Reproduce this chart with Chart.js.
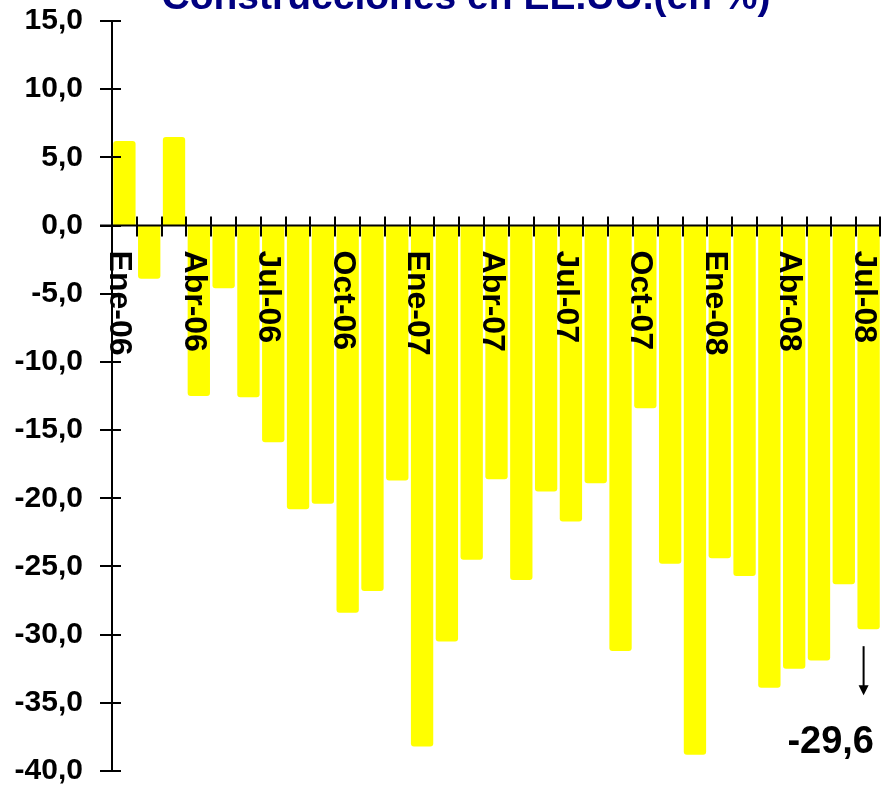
<!DOCTYPE html>
<html>
<head>
<meta charset="utf-8">
<script src="https://cdn.jsdelivr.net/npm/chart.js@4.4.1/dist/chart.umd.min.js"></script>
<style>
  html, body { margin: 0; padding: 0; background: #ffffff; }
  #wrap { width: 881px; height: 788px; }
</style>
</head>
<body>
<div id="wrap"><canvas id="c" width="881" height="788"></canvas></div>
<script>
// Monthly change in US construction (%), Jan 2006 - Jul 2008
const chartTitle = 'Construcciones en EE.UU.(en %)';
const months = [
  'Ene-06','Feb-06','Mar-06','Abr-06','May-06','Jun-06','Jul-06','Ago-06','Sep-06','Oct-06','Nov-06','Dic-06',
  'Ene-07','Feb-07','Mar-07','Abr-07','May-07','Jun-07','Jul-07','Ago-07','Sep-07','Oct-07','Nov-07','Dic-07',
  'Ene-08','Feb-08','Mar-08','Abr-08','May-08','Jun-08','Jul-08'
];
const values = [
  6.2, -3.9, 6.5, -12.5, -4.6, -12.6, -15.9, -20.8, -20.4, -28.4, -26.8, -18.7,
  -38.2, -30.5, -24.5, -18.6, -26.0, -19.5, -21.7, -18.9, -31.2, -13.4, -24.8, -38.8,
  -24.4, -25.7, -33.9, -32.5, -31.9, -26.3, -29.6
];
const yTickValues = [15, 10, 5, 0, -5, -10, -15, -20, -25, -30, -35, -40];
const labelEvery = 3;          // a month label every quarter
const calloutIndex = values.length - 1; // latest month gets a value callout

const FONT = '"Liberation Sans", Arial, Helvetica, sans-serif';
const fmt = v => Number(v).toFixed(1).replace('.', ',');

// Axes with crossing tick marks, rotated month labels, callout and title
const decorations = {
  id: 'decorations',
  afterDatasetsDraw(chart) {
    const { ctx, chartArea: ca, scales: { x, y } } = chart;
    const y0 = y.getPixelForValue(0);
    const n = months.length;
    const step = (ca.right - ca.left) / n;

    ctx.save();
    ctx.strokeStyle = '#000';
    ctx.lineWidth = 2;

    // vertical axis and its ticks
    ctx.beginPath();
    ctx.moveTo(ca.left, y.getPixelForValue(yTickValues[0]));
    ctx.lineTo(ca.left, y.getPixelForValue(yTickValues[yTickValues.length - 1]));
    yTickValues.forEach(v => {
      const py = Math.round(y.getPixelForValue(v));
      ctx.moveTo(ca.left - 12, py);
      ctx.lineTo(ca.left + 9, py);
    });
    ctx.stroke();

    // horizontal axis at zero with ticks between months
    ctx.beginPath();
    ctx.moveTo(ca.left - 12, y0);
    ctx.lineTo(ca.right, y0);
    for (let i = 1; i <= n; i++) {
      const px = Math.min(Math.round(x.getPixelForValue(i - 1) + step / 2), ca.right - 1);
      ctx.moveTo(px, y0 - 9);
      ctx.lineTo(px, y0 + 11);
    }
    ctx.stroke();

    // month labels, rotated to read downward
    ctx.fillStyle = '#000';
    ctx.font = 'bold 32px ' + FONT;
    ctx.textAlign = 'left';
    ctx.textBaseline = 'alphabetic';
    months.forEach((m, i) => {
      if (i % labelEvery !== 0) return;
      const px = x.getPixelForValue(i);
      ctx.save();
      ctx.translate(px - 14, y0 + 25);
      ctx.rotate(Math.PI / 2);
      ctx.fillText(m, 0, 0);
      ctx.restore();
    });

    // callout for the latest value
    const v = values[calloutIndex];
    const cx = x.getPixelForValue(calloutIndex) - 5;
    const end = y.getPixelForValue(v);
    ctx.beginPath();
    ctx.moveTo(cx, end + 17);
    ctx.lineTo(cx, end + 58);
    ctx.stroke();
    ctx.beginPath();
    ctx.moveTo(cx - 5, end + 56);
    ctx.lineTo(cx + 5, end + 56);
    ctx.lineTo(cx, end + 66);
    ctx.closePath();
    ctx.fill();
    ctx.font = 'bold 38px ' + FONT;
    ctx.textAlign = 'right';
    ctx.fillText(fmt(v), 874, end + 124);

    // title
    ctx.fillStyle = '#000080';
    ctx.font = 'bold 39px ' + FONT;
    ctx.textAlign = 'center';
    ctx.fillText(chartTitle, 466, 9);
    ctx.restore();
  }
};

new Chart(document.getElementById('c'), {
  type: 'bar',
  data: {
    labels: months,
    datasets: [{
      data: values,
      backgroundColor: '#ffff00',
      borderWidth: 0,
      borderRadius: 3,
      borderSkipped: 'start',
      barPercentage: 0.9,
      categoryPercentage: 1.0
    }]
  },
  options: {
    responsive: false,
    animation: false,
    devicePixelRatio: 1,
    layout: { padding: { top: 21, right: 0, bottom: 17, left: 0 } },
    plugins: { legend: { display: false }, title: { display: false }, tooltip: { enabled: false } },
    scales: {
      x: { display: false, offset: true },
      y: {
        min: -40,
        max: 15,
        afterBuildTicks: s => { s.ticks = yTickValues.map(v => ({ value: v })); },
        afterFit: s => { s.width = 112; },
        grid: { display: false, drawTicks: true, tickLength: 29 },
        border: { display: false },
        ticks: {
          padding: 0,
          color: '#000',
          font: { family: FONT, size: 30, weight: 'bold', lineHeight: 1 },
          callback: v => fmt(v)
        }
      }
    }
  },
  plugins: [decorations]
});
</script>
</body>
</html>
